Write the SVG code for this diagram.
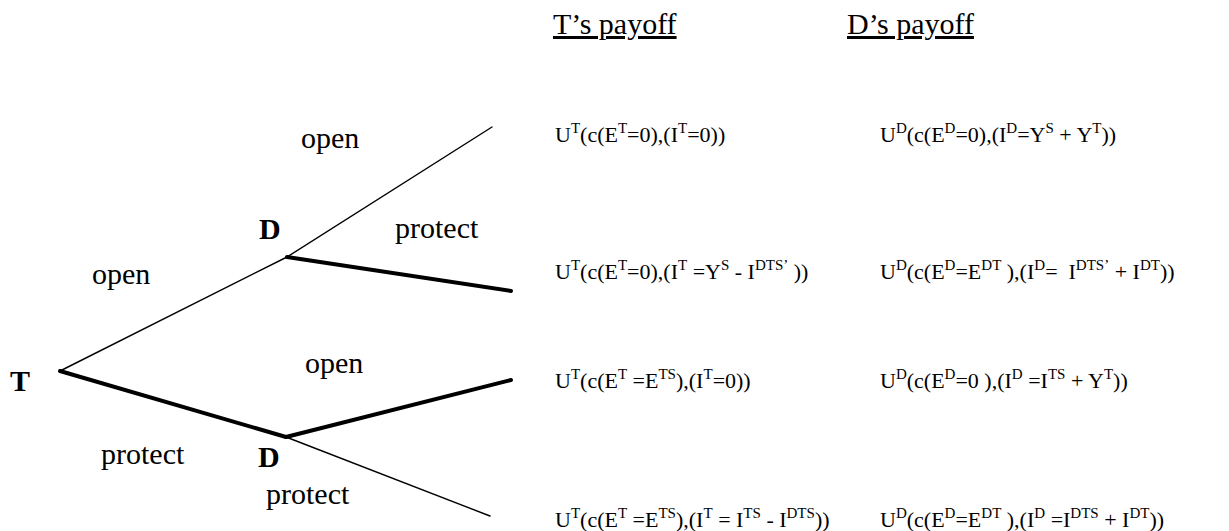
<svg xmlns="http://www.w3.org/2000/svg" width="1229" height="531" viewBox="0 0 1229 531" font-family="'Liberation Serif', 'DejaVu Serif', serif">
<style>
text{font-family:'Liberation Serif','DejaVu Serif',serif;fill:#000;white-space:pre}
.lbl{font-size:30px}
.b{font-weight:bold}
.hd{font-size:30px;text-decoration:underline}
.p{font-size:22px}
.s{font-size:15px}
.thin{stroke:#000;stroke-width:1.4;fill:none;stroke-linecap:round}
.thick{stroke:#000;stroke-width:4;fill:none;stroke-linecap:round}
</style>
<rect width="1229" height="531" fill="#fff"/>
<g id="headers">
<text class="hd" x="553" y="34">T’s payoff</text>
<text class="hd" x="847" y="34">D’s payoff</text>
</g>
<g id="connectors">
<line class="thin" x1="60" y1="371" x2="287" y2="257"/>
<line class="thin" x1="287" y1="257" x2="492" y2="127"/>
<line class="thick" x1="287" y1="257" x2="511" y2="291"/>
<line class="thick" x1="60" y1="371" x2="286" y2="437"/>
<line class="thick" x1="286" y1="437" x2="511" y2="380"/>
<line class="thin" x1="286" y1="437" x2="490" y2="516"/>
</g>
<g id="node-T"><text class="lbl b" x="10" y="391">T</text></g>
<g id="node-D1"><text class="lbl b" x="259" y="239">D</text></g>
<g id="node-D2"><text class="lbl b" x="258" y="467">D</text></g>
<g id="edge-labels">
<text class="lbl" x="301" y="148">open</text>
<text class="lbl" x="395" y="238">protect</text>
<text class="lbl" x="92" y="284">open</text>
<text class="lbl" x="305" y="373">open</text>
<text class="lbl" x="101" y="464">protect</text>
<text class="lbl" x="266" y="504">protect</text>
</g>
<g id="payoff-1">
<text class="p" x="555" y="142">U<tspan class="s" dy="-9">T</tspan><tspan dy="9">(c(E</tspan><tspan class="s" dy="-9">T</tspan><tspan dy="9">=0),(I</tspan><tspan class="s" dy="-9">T</tspan><tspan dy="9">=0))</tspan></text>
<text class="p" x="880" y="142">U<tspan class="s" dy="-9">D</tspan><tspan dy="9">(c(E</tspan><tspan class="s" dy="-9">D</tspan><tspan dy="9">=0),(I</tspan><tspan class="s" dy="-9">D</tspan><tspan dy="9">=Y</tspan><tspan class="s" dy="-9">S</tspan><tspan dy="9"> + Y</tspan><tspan class="s" dy="-9">T</tspan><tspan dy="9">))</tspan></text>
</g>
<g id="payoff-2">
<text class="p" x="555" y="279">U<tspan class="s" dy="-9">T</tspan><tspan dy="9">(c(E</tspan><tspan class="s" dy="-9">T</tspan><tspan dy="9">=0),(I</tspan><tspan class="s" dy="-9">T</tspan><tspan dy="9"> =Y</tspan><tspan class="s" dy="-9">S</tspan><tspan dy="9"> - I</tspan><tspan class="s" dy="-9">DTS’</tspan><tspan dy="9"> ))</tspan></text>
<text class="p" x="880" y="279">U<tspan class="s" dy="-9">D</tspan><tspan dy="9">(c(E</tspan><tspan class="s" dy="-9">D</tspan><tspan dy="9">=E</tspan><tspan class="s" dy="-9">DT</tspan><tspan dy="9"> ),(I</tspan><tspan class="s" dy="-9">D</tspan><tspan dy="9">=  I</tspan><tspan class="s" dy="-9">DTS’</tspan><tspan dy="9"> + I</tspan><tspan class="s" dy="-9">DT</tspan><tspan dy="9">))</tspan></text>
</g>
<g id="payoff-3">
<text class="p" x="555" y="388">U<tspan class="s" dy="-9">T</tspan><tspan dy="9">(c(E</tspan><tspan class="s" dy="-9">T</tspan><tspan dy="9"> =E</tspan><tspan class="s" dy="-9">TS</tspan><tspan dy="9">),(I</tspan><tspan class="s" dy="-9">T</tspan><tspan dy="9">=0))</tspan></text>
<text class="p" x="880" y="388">U<tspan class="s" dy="-9">D</tspan><tspan dy="9">(c(E</tspan><tspan class="s" dy="-9">D</tspan><tspan dy="9">=0 ),(I</tspan><tspan class="s" dy="-9">D</tspan><tspan dy="9"> =I</tspan><tspan class="s" dy="-9">TS</tspan><tspan dy="9"> + Y</tspan><tspan class="s" dy="-9">T</tspan><tspan dy="9">))</tspan></text>
</g>
<g id="payoff-4">
<text class="p" x="555" y="527">U<tspan class="s" dy="-9">T</tspan><tspan dy="9">(c(E</tspan><tspan class="s" dy="-9">T</tspan><tspan dy="9"> =E</tspan><tspan class="s" dy="-9">TS</tspan><tspan dy="9">),(I</tspan><tspan class="s" dy="-9">T</tspan><tspan dy="9"> = I</tspan><tspan class="s" dy="-9">TS</tspan><tspan dy="9"> - I</tspan><tspan class="s" dy="-9">DTS</tspan><tspan dy="9">))</tspan></text>
<text class="p" x="880" y="527">U<tspan class="s" dy="-9">D</tspan><tspan dy="9">(c(E</tspan><tspan class="s" dy="-9">D</tspan><tspan dy="9">=E</tspan><tspan class="s" dy="-9">DT</tspan><tspan dy="9"> ),(I</tspan><tspan class="s" dy="-9">D</tspan><tspan dy="9"> =I</tspan><tspan class="s" dy="-9">DTS</tspan><tspan dy="9"> + I</tspan><tspan class="s" dy="-9">DT</tspan><tspan dy="9">))</tspan></text>
</g>
</svg>
